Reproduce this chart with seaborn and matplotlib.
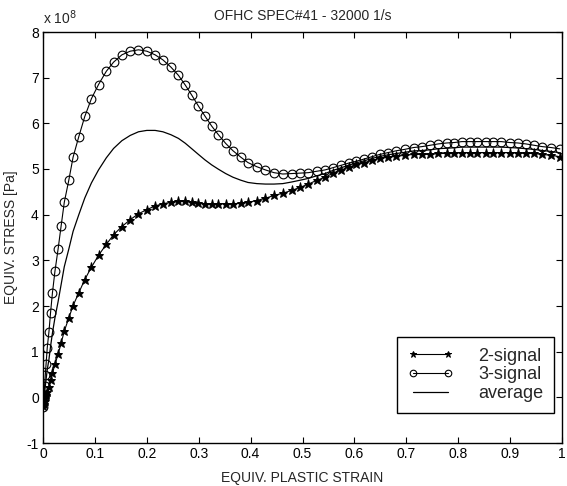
import numpy as np
import pandas as pd
import seaborn as sns
import matplotlib
matplotlib.use('Agg')
import matplotlib.pyplot as plt

# ── data (stress in units of 1e8 Pa) ─────────────────────────────────────────
strain = [0.0, 0.0015, 0.003, 0.0045, 0.006, 0.0082, 0.0115, 0.0145, 0.0182, 0.023,
          0.029, 0.035, 0.041, 0.0498, 0.058, 0.069, 0.0805, 0.0933, 0.107, 0.122,
          0.136, 0.152, 0.168, 0.184, 0.200, 0.216, 0.231, 0.2466, 0.261, 0.274,
          0.287, 0.2994, 0.312, 0.325, 0.338, 0.352, 0.366, 0.381, 0.395, 0.412,
          0.4285, 0.445, 0.462, 0.479, 0.4956, 0.5115, 0.527, 0.5435, 0.559, 0.574,
          0.589, 0.604, 0.619, 0.634, 0.649, 0.665, 0.681, 0.697, 0.714, 0.730,
          0.746, 0.762, 0.778, 0.7925, 0.807, 0.822, 0.837, 0.853, 0.868, 0.883,
          0.899, 0.915, 0.930, 0.946, 0.962, 0.979, 0.996]

stress_3sig = [-0.22, 0.0, 0.25, 0.50, 0.74, 1.09, 1.44, 1.85, 2.29, 2.76,
               3.24, 3.76, 4.27, 4.76, 5.26, 5.71, 6.15, 6.54, 6.85, 7.14,
               7.34, 7.50, 7.58, 7.61, 7.58, 7.50, 7.39, 7.23, 7.05, 6.84,
               6.61, 6.38, 6.16, 5.94, 5.75, 5.56, 5.40, 5.26, 5.14, 5.05,
               4.98, 4.92, 4.89, 4.90, 4.91, 4.92, 4.95, 4.98, 5.03, 5.08,
               5.13, 5.17, 5.22, 5.27, 5.32, 5.36, 5.40, 5.43, 5.47, 5.49,
               5.52, 5.55, 5.57, 5.58, 5.60, 5.60, 5.60, 5.60, 5.60, 5.60,
               5.58, 5.57, 5.55, 5.52, 5.49, 5.47, 5.44]

stress_2sig = [-0.20, -0.15, -0.08, 0.0, 0.06, 0.12, 0.23, 0.37, 0.53, 0.72,
               0.94, 1.19, 1.45, 1.74, 2.01, 2.29, 2.58, 2.85, 3.11, 3.35,
               3.56, 3.74, 3.89, 4.02, 4.11, 4.19, 4.24, 4.27, 4.29, 4.29,
               4.27, 4.26, 4.24, 4.24, 4.24, 4.24, 4.24, 4.25, 4.27, 4.31,
               4.36, 4.42, 4.47, 4.53, 4.60, 4.67, 4.75, 4.82, 4.91, 4.97,
               5.04, 5.10, 5.14, 5.19, 5.23, 5.26, 5.28, 5.30, 5.32, 5.32,
               5.32, 5.34, 5.34, 5.35, 5.36, 5.36, 5.36, 5.36, 5.36, 5.36,
               5.36, 5.35, 5.34, 5.34, 5.32, 5.30, 5.27]

df = pd.DataFrame({'strain': strain, 's2': stress_2sig, 's3': stress_3sig})
df['avg'] = (df['s2'] + df['s3']) / 2   # average of the two signals

# ── style ────────────────────────────────────────────────────────────────────
sns.set_style('ticks')
plt.rcParams['font.family'] = ['Liberation Sans', 'DejaVu Sans']
plt.rcParams['font.size'] = 10

fig = plt.figure(figsize=(5.67, 4.86), dpi=100)
ax = fig.add_axes([43 / 567, 43 / 486, 519 / 567, 411 / 486])

sns.lineplot(data=df, x='strain', y='s2', ax=ax, sort=False, estimator=None,
             color='black', lw=0.8, marker='*', markersize=6.5,
             markerfacecolor='black', markeredgecolor='black', markeredgewidth=0.7,
             label='2-signal')
sns.lineplot(data=df, x='strain', y='s3', ax=ax, sort=False, estimator=None,
             color='black', lw=0.8, marker='o', markersize=6.3,
             markerfacecolor='none', markeredgecolor='black', markeredgewidth=0.8,
             label='3-signal')
sns.lineplot(data=df, x='strain', y='avg', ax=ax, sort=False, estimator=None,
             color='black', lw=0.9, label='average')

ax.set_xlim(0, 1)
ax.set_ylim(-1, 8)
ax.set_xticks(np.arange(0, 1.01, 0.1))
ax.set_xticklabels(['0', '0.1', '0.2', '0.3', '0.4', '0.5', '0.6', '0.7', '0.8', '0.9', '1'])
ax.set_yticks(range(-1, 9))
ax.set_yticklabels([str(v) for v in range(-1, 9)])
ax.tick_params(direction='in', length=4, width=0.8, top=True, right=True,
               labelsize=10, pad=3, colors='black')
for sp in ax.spines.values():
    sp.set_visible(True)
    sp.set_linewidth(1.0)
    sp.set_color('black')

ax.set_title('OFHC SPEC#41 - 32000 1/s', fontsize=10, pad=9)
ax.set_xlabel('EQUIV. PLASTIC STRAIN', fontsize=10, labelpad=7)
ax.set_ylabel('EQUIV. STRESS [Pa]', fontsize=10, labelpad=6)
ax.text(0.0, 1.012, r'x 10$^{8}$', transform=ax.transAxes, fontsize=10,
        ha='left', va='bottom')

leg = ax.legend(loc='lower right', bbox_to_anchor=(0.985, 0.073), fontsize=13,
                numpoints=2, markerscale=0.75, handlelength=2.5, handletextpad=1.4,
                labelspacing=0.1, borderpad=0.6, borderaxespad=0, fancybox=False,
                edgecolor='black', framealpha=1)
leg.get_frame().set_linewidth(1.0)

fig.savefig('out.png', dpi=100)
